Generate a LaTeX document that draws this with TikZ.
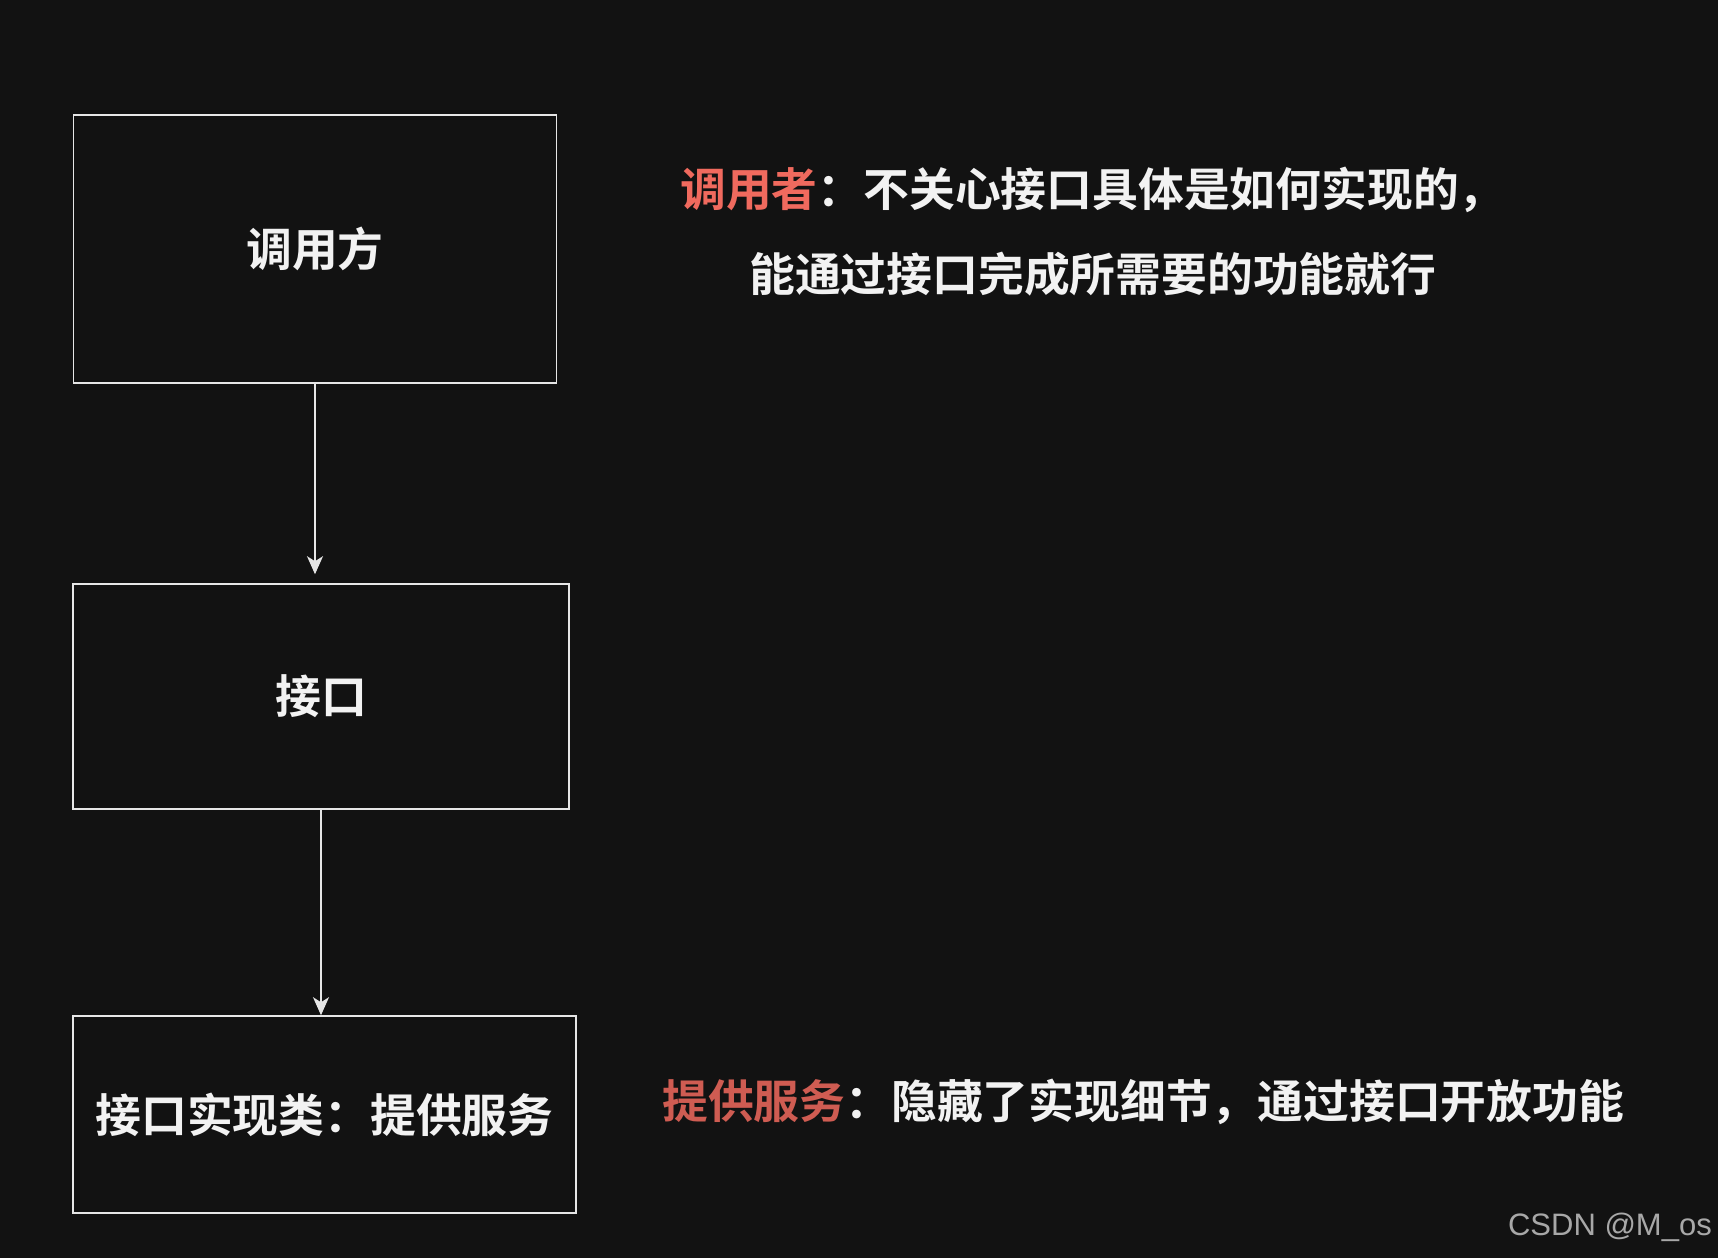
\documentclass[tikz,border=0pt]{standalone}
\usepackage{fontspec}
\newfontfamily\cjk{Noto Sans CJK SC}[BoldFont={Noto Sans CJK SC Bold}]
\setsansfont{Liberation Sans}
\usetikzlibrary{arrows.meta}
\definecolor{bgc}{HTML}{121212}
\definecolor{fgc}{HTML}{F2F2F2}
\definecolor{linec}{HTML}{E6E6E6}
\definecolor{redA}{HTML}{F06A5E}
\definecolor{redB}{HTML}{CF5C52}
\definecolor{wmc}{HTML}{A8A8A8}
\tikzset{
  box/.style={draw=linec, line width=1.6pt, inner sep=0pt, text=fgc,
    font=\cjk\bfseries\fontsize{45.8}{54}\selectfont},
  note/.style={inner sep=0pt, anchor=west, text=fgc,
    font=\cjk\bfseries\fontsize{45.8}{54}\selectfont},
  arr/.style={draw=linec, line width=1.3pt, -{Stealth[length=18pt,width=16pt,inset=5pt]}},
}
\begin{document}
\begin{tikzpicture}[x=1pt,y=-1pt]
\fill[bgc] (0,0) rectangle (1718,1258);
\useasboundingbox (0,0) rectangle (1718,1258);
\node[box, minimum width=483pt, minimum height=268pt] (b1) at (315,249) {调用方};
\node[box, minimum width=496pt, minimum height=225pt] (b2) at (321,696.5) {接口};
\node[box, minimum width=503pt, minimum height=197pt] (b3) at (324.5,1114.5) {接口实现类：提供服务};
\draw[arr, shorten >=9pt] (b1.south) -- (b1.south |- b2.north);
\draw[arr] (b2.south) -- (b2.south |- b3.north);
\node[note] (t1) at (680,190) {\textcolor{redA}{调用者}：不关心接口具体是如何实现的，};
\node[note] (t2) at (749,274) {能通过接口完成所需要的功能就行};
\node[note] (t3) at (662,1102) {\textcolor{redB}{提供服务}：隐藏了实现细节，通过接口开放功能};
\node[inner sep=0pt, anchor=east, text=wmc, font=\sffamily\fontsize{31}{36}\selectfont] (wm) at (1712,1227) {CSDN @M\_os};
\end{tikzpicture}
\end{document}
